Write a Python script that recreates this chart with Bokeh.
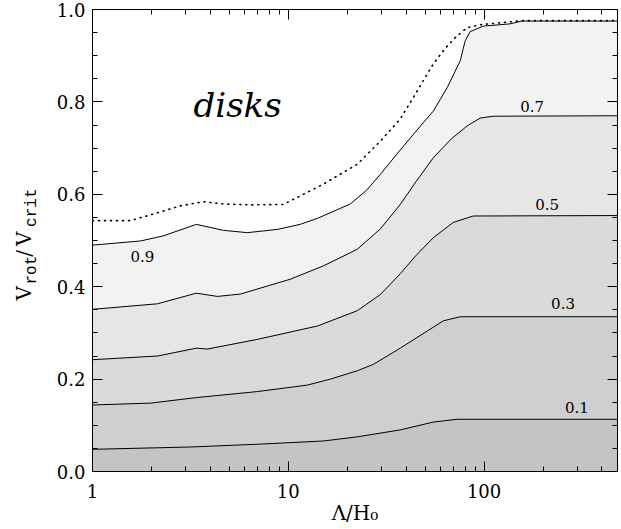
import math
from bokeh.plotting import figure
from bokeh.models import FixedTicker, PrintfTickFormatter, CustomJSTickFormatter, LinearAxis, LogAxis, Label
from bokeh.embed import file_html
from bokeh.resources import INLINE

# ---------------- data ----------------
x_dot = [1.0, 1.56, 2.15, 2.81, 3.68, 4.66, 6.4, 9.43, 11.1, 15.1, 22.5, 29.5, 37.3, 45.0, 55.0, 63.0, 71.1, 81.9, 95.5, 141, 153, 480]
y_dot = [0.543, 0.543, 0.560, 0.575, 0.584, 0.579, 0.577, 0.578, 0.593, 0.622, 0.665, 0.715, 0.763, 0.820, 0.882, 0.915, 0.939, 0.961, 0.967, 0.974, 0.976, 0.976]

x_c09 = [1.0, 1.76, 2.30, 3.39, 4.66, 6.18, 8.79, 11.5, 14.1, 20.7, 25.0, 29.5, 37.3, 45.0, 55.0, 64.8, 75.5, 80.0, 84.8, 98.9, 136, 156, 480]
y_c09 = [0.490, 0.499, 0.510, 0.535, 0.522, 0.517, 0.524, 0.535, 0.548, 0.579, 0.608, 0.643, 0.696, 0.737, 0.780, 0.831, 0.889, 0.932, 0.952, 0.964, 0.969, 0.975, 0.975]

x_c07 = [1.0, 2.15, 3.39, 4.34, 5.69, 10.2, 15.1, 22.5, 29.5, 37.3, 45.0, 55.0, 68.0, 81.9, 95.5, 111, 480]
y_c07 = [0.351, 0.363, 0.386, 0.379, 0.384, 0.416, 0.445, 0.481, 0.525, 0.578, 0.628, 0.679, 0.720, 0.748, 0.765, 0.769, 0.770]

x_c05 = [1.0, 2.15, 3.39, 3.86, 6.95, 14.1, 22.5, 29.5, 37.3, 45.0, 55.0, 69.5, 87.9, 480]
y_c05 = [0.242, 0.250, 0.267, 0.265, 0.286, 0.315, 0.348, 0.383, 0.428, 0.468, 0.506, 0.539, 0.553, 0.554]

x_c03 = [1.0, 1.98, 3.39, 6.95, 12.5, 16.4, 22.5, 27.2, 37.3, 51.2, 61.8, 75.5, 480]
y_c03 = [0.144, 0.148, 0.160, 0.173, 0.187, 0.200, 0.218, 0.232, 0.267, 0.304, 0.326, 0.335, 0.335]

x_c01 = [1.0, 3.16, 6.95, 15.1, 22.5, 37.3, 55.0, 72.8, 480]
y_c01 = [0.048, 0.053, 0.059, 0.066, 0.075, 0.090, 0.107, 0.113, 0.113]

contour_levels = ["0.9", "0.7", "0.5", "0.3", "0.1"]
label_x = [1.80, 176, 210, 253, 298]
label_y = [0.466, 0.791, 0.579, 0.363, 0.138]

x_major = [1, 10, 100]
x_minor = [2, 3, 4, 5, 6, 7, 8, 9, 20, 30, 40, 50, 60, 70, 80, 90, 200, 300, 400]
y_major = [0.0, 0.2, 0.4, 0.6, 0.8, 1.0]
y_minor = [0.05, 0.1, 0.15, 0.25, 0.3, 0.35, 0.45, 0.5, 0.55, 0.65, 0.7, 0.75, 0.85, 0.9, 0.95]

# ---------------- figure ----------------
p = figure(width=621, height=529, x_axis_type="log", x_range=(1, 480), y_range=(0, 1),
           output_backend="svg", toolbar_location=None,
           min_border_left=92, min_border_right=4, min_border_top=9, min_border_bottom=58)
p.grid.visible = False
p.outline_line_color = "black"
p.background_fill_color = "white"

SERIF = "DejaVu Serif"
MONO = "Liberation Mono"

bands = [(x_c09, y_c09, "#f2f2f2"), (x_c07, y_c07, "#e6e6e6"), (x_c05, y_c05, "#dadada"),
         (x_c03, y_c03, "#cfcfcf"), (x_c01, y_c01, "#c4c4c4")]
for xs, ys, col in bands:
    p.varea(x=xs, y1=[0] * len(xs), y2=ys, fill_color=col)

for xs, ys, col in bands:
    p.line(xs, ys, line_color="black", line_width=1)

p.line(x_dot, y_dot, line_color="black", line_width=1.6, line_dash="1 5", line_cap="round")

for t, lx, ly in zip(contour_levels, label_x, label_y):
    p.add_layout(Label(x=lx, y=ly, text=t, text_align="center", text_baseline="middle",
                       text_font=SERIF, text_font_size="15px", text_color="black"))

p.add_layout(Label(x=3.28, y=0.793, text="disks", text_align="left", text_baseline="alphabetic",
                   text_font=SERIF, text_font_style="italic", text_font_size="34px", text_color="black"))

# ---------------- axes ----------------
xt = FixedTicker(ticks=x_major, minor_ticks=x_minor)
yt = FixedTicker(ticks=y_major, minor_ticks=y_minor)

def style(ax, labels=True):
    ax.major_tick_in = 10
    ax.major_tick_out = 0
    ax.minor_tick_in = 5
    ax.minor_tick_out = 0
    ax.axis_line_color = "black"
    ax.major_tick_line_color = "black"
    ax.minor_tick_line_color = "black"
    if labels:
        ax.major_label_text_font = SERIF
        ax.major_label_text_font_size = "18px"
        ax.major_label_text_color = "black"
    else:
        ax.major_label_text_font_size = "1px"
        ax.major_label_standoff = 0

xa = p.xaxis[0]
xa.ticker = xt
xa.formatter = PrintfTickFormatter(format="%d")
style(xa)
xa.major_label_standoff = 12
xa.axis_label = "Λ/H₀"
xa.axis_label_text_font = SERIF
xa.axis_label_text_font_size = "20px"
xa.axis_label_text_font_style = "normal"
xa.axis_label_text_color = "black"
xa.axis_label_standoff = 0

ya = p.yaxis[0]
ya.ticker = yt
ya.formatter = PrintfTickFormatter(format="%.1f")
style(ya)
ya.major_label_standoff = 7

blank = CustomJSTickFormatter(code="return ''")
top = LogAxis(ticker=xt, formatter=blank)
style(top, labels=False)
p.add_layout(top, "above")
right = LinearAxis(ticker=yt, formatter=blank)
style(right, labels=False)
p.add_layout(right, "right")

# ---------------- y title: main glyphs and subscripts, in the left side panel ----------------
NB = "\u00a0"
main_txt = "V" + NB * 4 + "\u2009" + "/" + "\u2009" + "V"
sub_txt = "rot" + NB * 3 + "crit"
p.add_layout(Label(x=-6, y=171, x_units="screen", y_units="screen", text=main_txt, angle=math.pi / 2,
                   text_align="left", text_baseline="alphabetic", text_font=SERIF,
                   text_font_size="20px", text_color="black"), "left")
p.add_layout(Label(x=20, y=187, x_units="screen", y_units="screen", text=sub_txt, angle=math.pi / 2,
                   text_align="left", text_baseline="alphabetic", text_font=MONO,
                   text_font_size="16px", text_color="black"), "left")

open("out.html", "w").write(file_html(p, INLINE))
